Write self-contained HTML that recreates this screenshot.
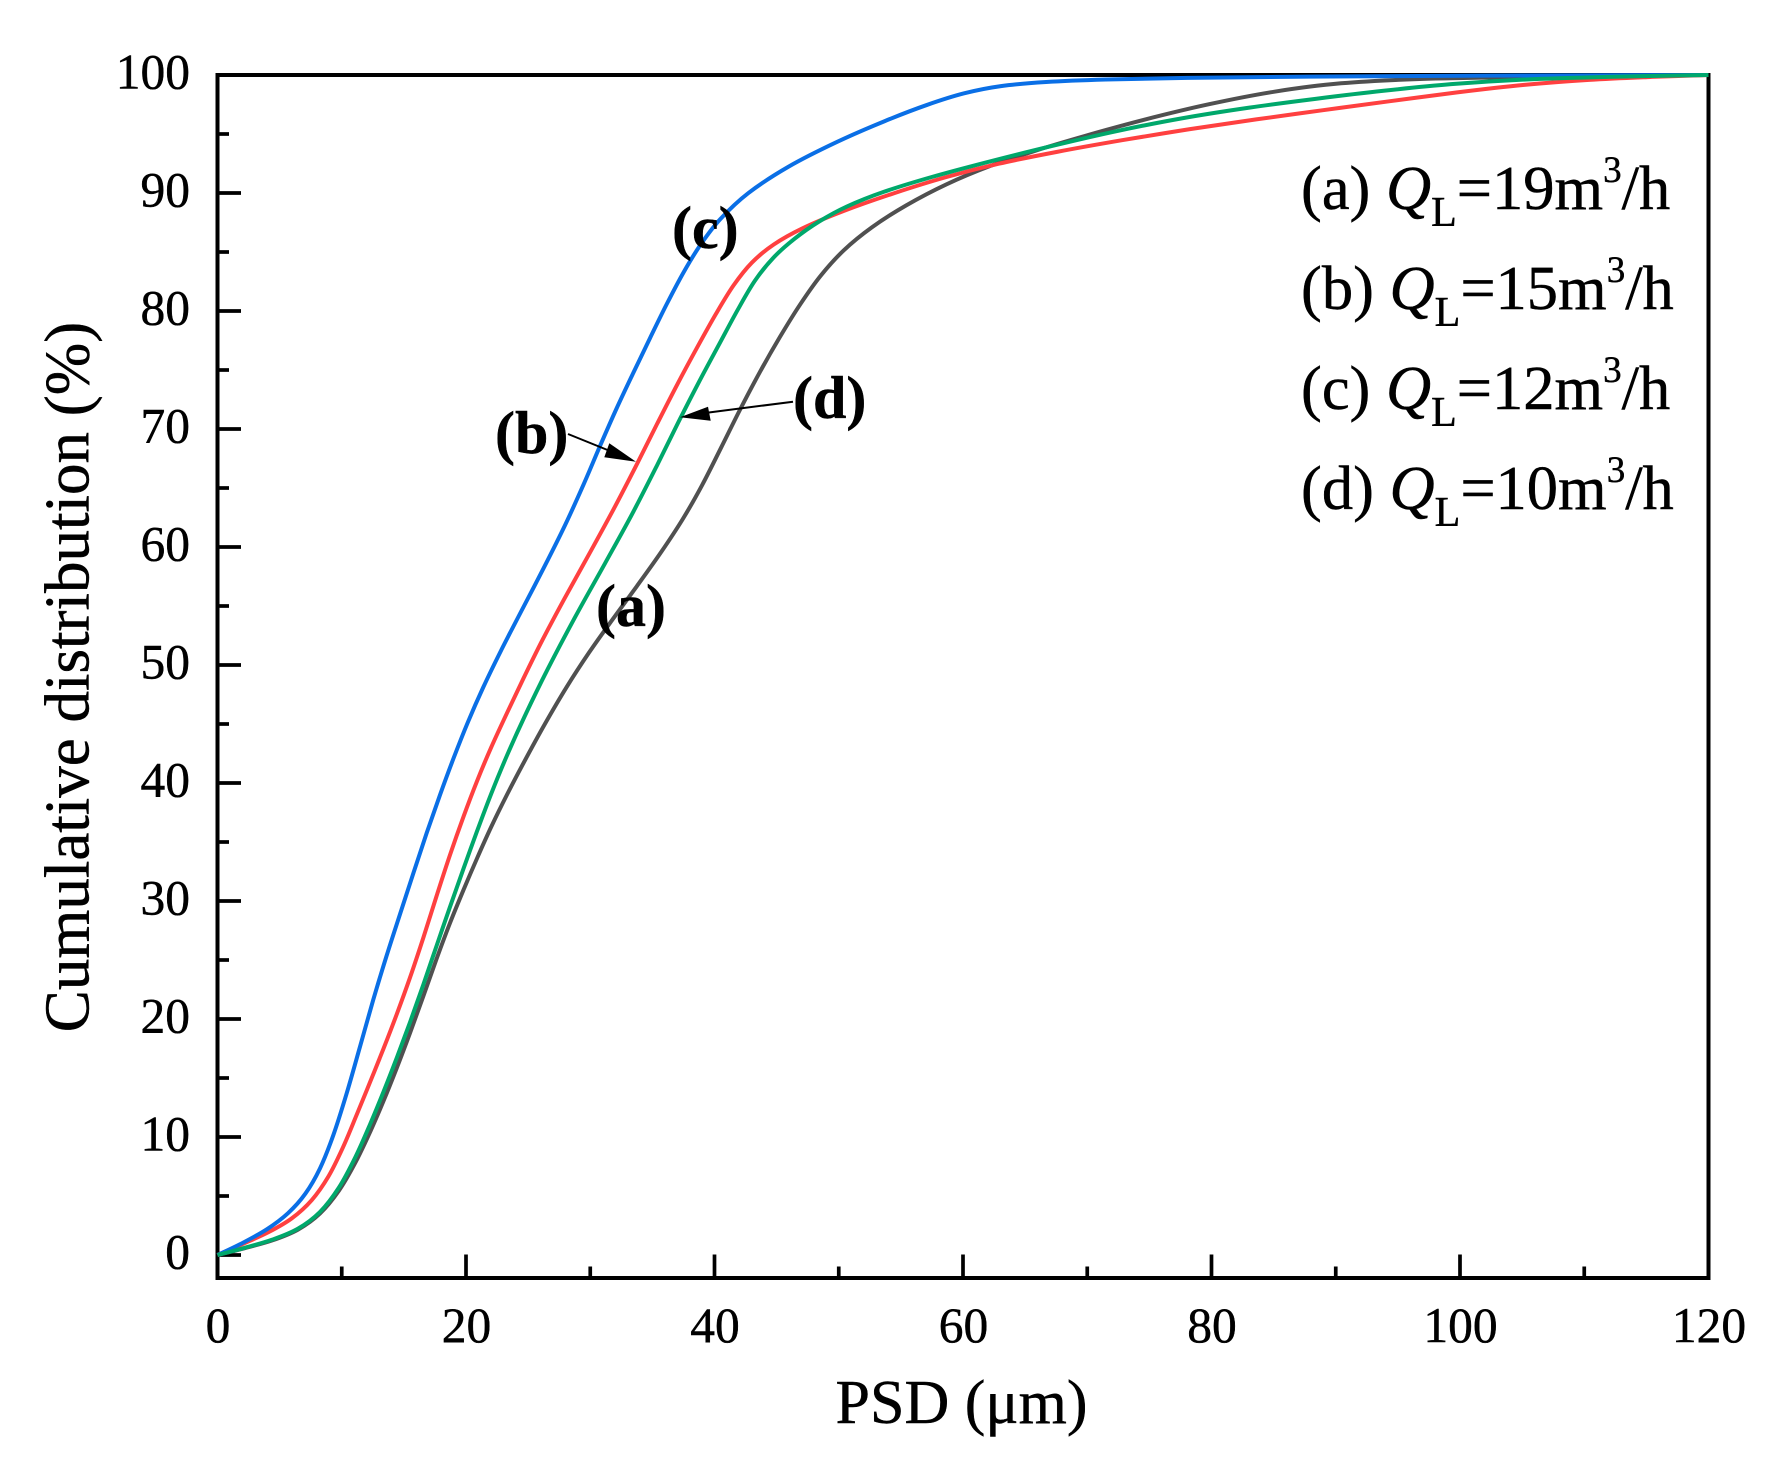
<!DOCTYPE html>
<html lang="en">
<head>
<meta charset="utf-8">
<title>Cumulative distribution vs PSD</title>
<style>
  html, body { margin: 0; padding: 0; background: #fff; }
  body { width: 1788px; height: 1458px; overflow: hidden; }
  svg { display: block; font-family: "Liberation Serif", serif; fill: #000; }
  text { stroke: #000; stroke-width: 0.45px; }
</style>
</head>
<body>
<svg id="chart" xmlns="http://www.w3.org/2000/svg" width="1788" height="1458" viewBox="0 0 1788 1458">
  <rect x="0" y="0" width="1788" height="1458" fill="#fff"/>
  <g id="ticks"></g>
  <rect x="217.5" y="75" width="1491" height="1203" fill="none" stroke="#000" stroke-width="4"/>
  <g id="series"></g>
  <g id="tick-labels" font-size="49.5"></g>

  <text x="961.5" y="1423" font-size="62" text-anchor="middle">PSD (μm)</text>
  <text transform="translate(88.5 677) rotate(-90)" font-size="63" text-anchor="middle">Cumulative distribution (%)</text>

  <g font-size="62.5">
    <text x="1301" y="209">(a) <tspan font-style="italic">Q</tspan><tspan font-size="42" dy="17">L</tspan><tspan dy="-17">=19m</tspan><tspan font-size="37" dy="-27">3</tspan><tspan dy="27">/h</tspan></text>
    <text x="1301" y="309">(b) <tspan font-style="italic">Q</tspan><tspan font-size="42" dy="17">L</tspan><tspan dy="-17">=15m</tspan><tspan font-size="37" dy="-27">3</tspan><tspan dy="27">/h</tspan></text>
    <text x="1301" y="409">(c) <tspan font-style="italic">Q</tspan><tspan font-size="42" dy="17">L</tspan><tspan dy="-17">=12m</tspan><tspan font-size="37" dy="-27">3</tspan><tspan dy="27">/h</tspan></text>
    <text x="1301" y="509">(d) <tspan font-style="italic">Q</tspan><tspan font-size="42" dy="17">L</tspan><tspan dy="-17">=10m</tspan><tspan font-size="37" dy="-27">3</tspan><tspan dy="27">/h</tspan></text>
  </g>

  <g font-size="60" font-weight="bold">
    <text x="672" y="248">(c)</text>
    <text x="495" y="453">(b)</text>
    <text x="793" y="418">(d)</text>
    <text x="596" y="626">(a)</text>
    <line x1="568" y1="434" x2="610" y2="451" stroke="#000" stroke-width="2"/>
    <polygon points="636,461.7 609.3,443.3 604.3,457.3" fill="#000"/>
    <line x1="793" y1="401.7" x2="705" y2="413" stroke="#000" stroke-width="2"/>
    <polygon points="680,417.3 708,406.7 710.7,420.7" fill="#000"/>
  </g>
</svg>
<script>
const xTickLabels = [0, 20, 40, 60, 80, 100, 120];
const yTickLabels = [0, 10, 20, 30, 40, 50, 60, 70, 80, 90, 100];
const xMinorTicks = [10, 30, 50, 70, 90, 110];
const yMinorTicks = [5, 15, 25, 35, 45, 55, 65, 75, 85, 95];

const seriesAX = [0,2.1,4.5,6.7,8.3,9.9,11.2,12.3,13.4,14.4,15.5,16.6,17.6,18.7,19.8,20.9,21.9,23.3,24.6,26.2,28.1,30,31.6,33.7,35.9,37.5,39.1,40.4,42.1,43.7,45.2,46.9,48.5,50.1,52.5,55,58.7,62,65.8,69,74.4,79.9,85.2,90.1,95.5,103.5,120];
const seriesAY = [0,0.6,1.1,1.9,3.2,5.1,7.9,10.4,13,15.7,18.8,21.9,25.1,28.4,30.9,33.6,36.3,39,41.7,44.8,48.4,51.3,53.6,56.6,59.7,62.3,65.1,68.2,71.9,75,77.8,80.7,83.2,85.2,87.2,88.8,91,92.4,93.6,94.6,96.3,97.7,98.7,99.6,99.7,99.85,100];

const seriesBX = [0,2.1,4.2,6.1,7.7,9.1,10.1,11.2,12.3,13.4,14.4,15.5,16.6,17.6,18.7,19.8,20.9,21.9,23.3,24.6,26,27.6,30.2,32.1,33.8,35.4,37,38.6,40.2,41.5,42.9,44.5,46.6,49.6,54.5,59.3,62,67.4,72.8,78.2,83.6,89,94.3,99.8,105.2,110.6,115.5,120];
const seriesBY = [0,1,1.9,2.8,4.4,6.5,8.9,12,14.7,17.4,20.4,23.3,26.8,30.5,34,37.3,40.2,43.1,45.8,48.8,52.1,55,60,63.4,67.1,70.5,73.9,77,79.8,82.6,84.3,85.7,86.9,88.4,90,91.7,92.4,93.5,94.5,95.5,96.2,97.1,97.7,98.6,99.3,99.7,99.85,100];

const seriesCX = [0,2.1,4.2,5.8,7.2,8.3,9.3,10.4,11.5,12.5,13.6,14.7,15.8,16.8,17.9,19,20,21.4,22.7,24.1,26.5,28.1,29.5,30.8,32.1,33.5,34.8,36.2,37.5,38.8,40.2,42.1,45.3,50.2,54,57.2,60.4,62.6,65.8,71.2,76.6,84.7,100,120];
const seriesCY = [0,1,2.1,3.4,5,6.9,9.8,13.5,17.6,21.9,25.4,28.9,32.4,35.9,39,42.1,45.1,48.2,51.1,53.9,58.6,62,65.1,68.8,71.9,74.7,77.8,80.7,83.5,85.7,87.7,90,92.2,94.6,96.3,97.6,98.7,99.2,99.4,99.7,99.75,99.85,100,100];

const seriesDX = [0,2.1,4.5,6.7,8.3,9.9,11.2,12.3,13.4,14.4,15.5,16.6,17.6,18.7,19.8,20.9,21.9,23.3,24.6,26,28.9,31.3,33.5,35.4,37.2,38.8,40.4,42.1,43.1,44.5,46.5,48.2,50.5,52.8,57.2,62,66.9,72.3,77.6,83.1,88.4,93.9,99.2,104.7,110.6,120];
const seriesDY = [0,0.6,1.2,2,3.2,5.4,8.3,11.2,13.7,16.7,19.6,22.9,26.2,29.5,32.8,35.9,39,42.5,45.4,48.6,54.7,58.6,62.9,66.8,71,74.2,77.2,80.4,82.9,84.6,86.2,87.7,88.9,90,91.4,92.6,94,95.3,96.5,97.3,98,98.7,99.35,99.7,99.85,100];

const NS = 'http://www.w3.org/2000/svg';
const sx = v => 217.5 + v * (1708.5 - 217.5) / 120;
const sy = v => 1255 - v * (1255 - 75) / 100;

function make(tag, parent) {
  const el = document.createElementNS(NS, tag);
  parent.appendChild(el);
  return el;
}

// One light relaxation removes digitising jitter from the hand-read samples.
function relax(points) {
  return points.map((p, i) => {
    if (i === 0 || i === points.length - 1) return p;
    const a = points[i - 1], b = points[i + 1];
    return [(a[0] + 2 * p[0] + b[0]) / 4, (a[1] + 2 * p[1] + b[1]) / 4];
  });
}

function smoothPath(xs, ys) {
  const p = relax(relax(xs.map((x, i) => [sx(x), sy(ys[i])])));
  let d = 'M' + p[0][0].toFixed(2) + ' ' + p[0][1].toFixed(2);
  for (let i = 0; i < p.length - 1; i++) {
    const p0 = p[Math.max(i - 1, 0)], p1 = p[i], p2 = p[i + 1], p3 = p[Math.min(i + 2, p.length - 1)];
    const c1x = p1[0] + (p2[0] - p0[0]) / 6, c1y = p1[1] + (p2[1] - p0[1]) / 6;
    const c2x = p2[0] - (p3[0] - p1[0]) / 6, c2y = p2[1] - (p3[1] - p1[1]) / 6;
    d += 'C' + [c1x, c1y, c2x, c2y, p2[0], p2[1]].map(n => n.toFixed(2)).join(' ');
  }
  return d;
}

const tickGroup = document.getElementById('ticks');
const labelGroup = document.getElementById('tick-labels');
const seriesGroup = document.getElementById('series');

function xTick(v, len) {
  const t = make('line', tickGroup);
  
  
  t.setAttribute('x1', sx(v)); t.setAttribute('x2', sx(v));
  t.setAttribute('y1', 1278); t.setAttribute('y2', 1278 - len);
  t.setAttribute('stroke', '#000'); t.setAttribute('stroke-width', 3.7);
}
function yTick(v, len) {
  const t = make('line', tickGroup);
  
  
  t.setAttribute('x1', 217.5); t.setAttribute('x2', 217.5 + len);
  t.setAttribute('y1', sy(v)); t.setAttribute('y2', sy(v));
  t.setAttribute('stroke', '#000'); t.setAttribute('stroke-width', 3.7);
}

xTickLabels.forEach(v => {
  xTick(v, 23.5);
  const l = make('text', labelGroup);
  
  
  l.setAttribute('x', sx(v) + 0.5);
  l.setAttribute('y', 1342);
  l.setAttribute('text-anchor', 'middle');
  l.textContent = v;
});
xMinorTicks.forEach(v => xTick(v, 11.5));

yTickLabels.forEach(v => {
  yTick(v, 23.5);
  const l = make('text', labelGroup);
  
  
  l.setAttribute('x', 190);
  l.setAttribute('y', sy(v) + 13.5);
  l.setAttribute('text-anchor', 'end');
  l.textContent = v;
});
yMinorTicks.forEach(v => yTick(v, 11.5));

const curveA = make('path', seriesGroup);


curveA.setAttribute('d', smoothPath(seriesAX, seriesAY));
curveA.setAttribute('stroke', '#505050');

const curveB = make('path', seriesGroup);


curveB.setAttribute('d', smoothPath(seriesBX, seriesBY));
curveB.setAttribute('stroke', '#ff4040');

const curveC = make('path', seriesGroup);


curveC.setAttribute('d', smoothPath(seriesCX, seriesCY));
curveC.setAttribute('stroke', '#0a6fe6');

const curveD = make('path', seriesGroup);


curveD.setAttribute('d', smoothPath(seriesDX, seriesDY));
curveD.setAttribute('stroke', '#00a86b');

[curveA, curveB, curveC, curveD].forEach(c => {
  c.setAttribute('fill', 'none');
  c.setAttribute('stroke-width', 4);
  c.setAttribute('stroke-linejoin', 'round');
});
</script>
</body>
</html>
